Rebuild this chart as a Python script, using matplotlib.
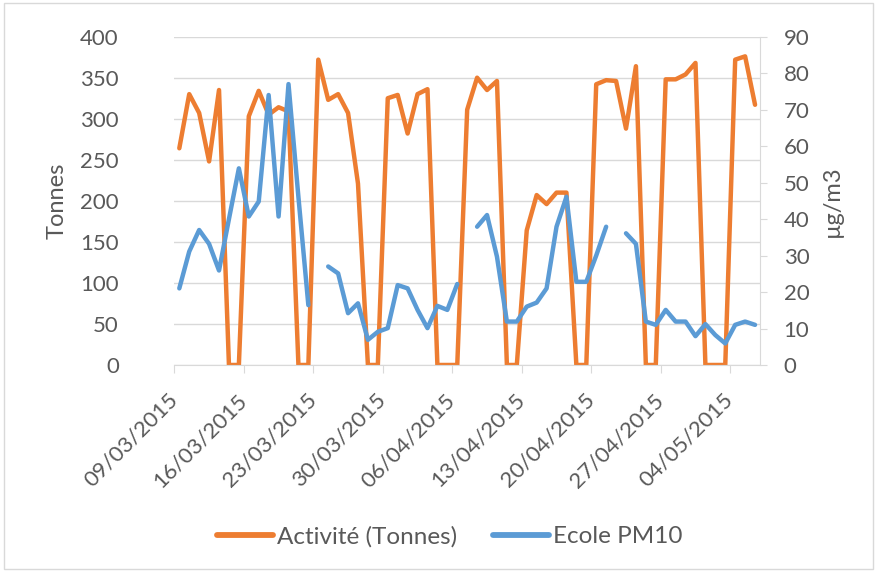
import numpy as np
import pandas as pd
import matplotlib.pyplot as plt
import matplotlib.dates as mdates
from matplotlib.patches import Rectangle
from matplotlib.transforms import ScaledTranslation

plt.rcParams["font.family"] = ["Lato", "DejaVu Sans"]

dates = pd.date_range("2015-03-09", "2015-05-06", freq="D")

activite = [
    264, 330, 307, 248, 335, 0, 0, 303, 334, 305,
    314, 309, 0, 0, 372, 323, 330, 307, 221, 0,
    0, 325, 329, 282, 330, 336, 0, 0, 0, 311,
    350, 335, 346, 0, 0, 164, 207, 196, 210, 210,
    0, 0, 342, 347, 346, 288, 364, 0, 0, 348,
    348, 354, 368, 0, 0, 0, 372, 376, 317,
]

pm10 = [
    21.0, 31.1, 37.0, 33.2, 25.9, 40.0, 53.9, 40.7, 44.8, 74.0,
    40.7, 77.0, 46.0, 16.4, np.nan, 27.0, 25.1, 14.2, 16.9, 6.9,
    9.1, 10.1, 21.9, 21.0, 15.1, 10.1, 16.2, 15.1, 22.2, np.nan,
    37.9, 41.1, 29.7, 11.9, 11.9, 16.0, 17.1, 21.0, 37.9, 46.1,
    22.8, 22.8, 30.0, 37.9, np.nan, 36.1, 33.2, 11.9, 11.0, 15.1,
    11.9, 11.9, 7.9, 11.2, 8.2, 5.9, 11.0, 11.9, 11.0,
]

orange = "#ED7D31"
blue = "#5B9BD5"
grey_txt = "#595959"
grid_col = "#D9D9D9"

fig = plt.figure(figsize=(8.77, 5.71), dpi=100)
ax = fig.add_axes([0.1988, 0.3608, 0.6678, 0.575])
ax2 = ax.twinx()

# points sit in the middle of each day slot
x = dates + pd.Timedelta(hours=12)

l1, = ax.plot(x, activite, color=orange, lw=3.2, solid_joinstyle="round",
              solid_capstyle="round", label="Activité (Tonnes)")
l2, = ax2.plot(x, pm10, color=blue, lw=3.2, solid_joinstyle="round",
               solid_capstyle="round", label="Ecole PM10")

ax.set_xlim(dates[0], dates[-1] + pd.Timedelta(days=1))
ax.set_ylim(0, 400)
ax.set_yticks(range(0, 401, 50))
ax2.set_ylim(0, 90)
ax2.set_yticks(range(0, 91, 10))

ticks = pd.date_range("2015-03-09", "2015-05-04", freq="7D")
ax.set_xticks(ticks)
ax.xaxis.set_major_formatter(mdates.DateFormatter("%d/%m/%Y"))
shift = ScaledTranslation(6 / 100, 0, fig.dpi_scale_trans)
for lab in ax.get_xticklabels():
    lab.set_rotation(45)
    lab.set_ha("right")
    lab.set_va("center")
    lab.set_rotation_mode("anchor")
    lab.set_transform(lab.get_transform() + shift)

ax.grid(axis="y", color=grid_col, lw=1)
ax.set_axisbelow(True)

for a in (ax, ax2):
    for side in ("top", "left", "right"):
        a.spines[side].set_visible(False)
    a.spines["bottom"].set_color(grid_col)
    a.tick_params(colors=grey_txt, labelsize=16)
ax2.spines["right"].set_visible(True)
ax2.spines["right"].set_color(grid_col)
ax2.spines["bottom"].set_visible(False)

ax.tick_params(axis="y", length=0, pad=40)
ax.tick_params(axis="x", length=6, color=grid_col, pad=17)
ax2.tick_params(axis="y", length=5, color=grid_col, pad=12)

ax.set_ylabel("Tonnes", color=grey_txt, fontsize=17, labelpad=9)
ax2.set_ylabel("µg/m3", color=grey_txt, fontsize=17, labelpad=9)

fig.legend([l1, l2], ["Activité (Tonnes)", "Ecole PM10"], loc="center",
           bbox_to_anchor=(0.513, 0.06), ncol=2, frameon=False,
           fontsize=17.5, labelcolor=grey_txt, handlelength=2.3,
           columnspacing=1.45, handletextpad=0.17)
for h in fig.legends[0].legend_handles:
    h.set_linewidth(4.2)

fig.patches.append(Rectangle((0.005, 0.004), 0.99, 0.99, transform=fig.transFigure,
                             fill=False, edgecolor=grid_col, lw=1))

fig.savefig("out.png", dpi=100)
